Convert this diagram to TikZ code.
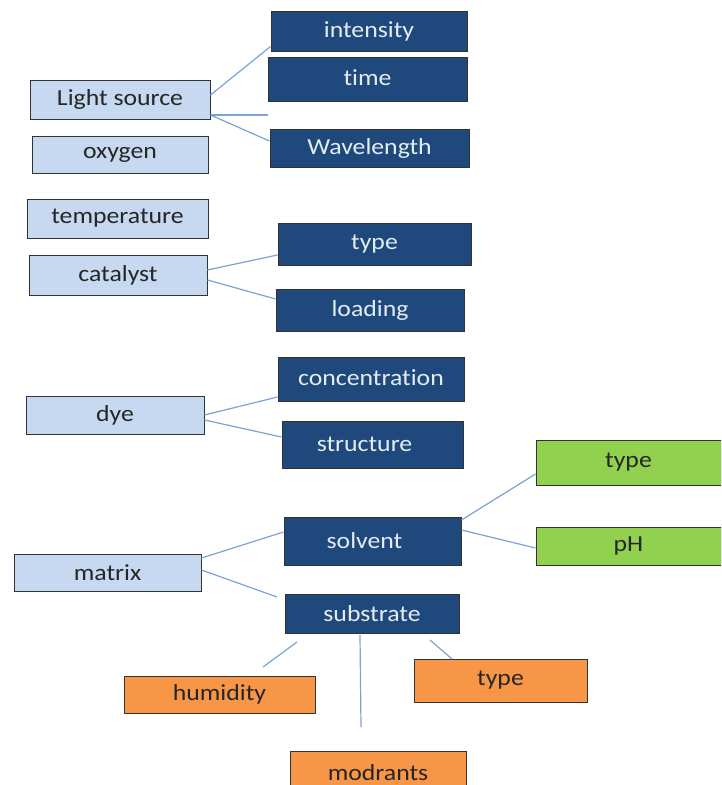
\documentclass[tikz,border=0pt]{standalone}
\usepackage{fontspec}
\setmainfont{Carlito}[FakeStretch=1.12, Ligatures={NoCommon,NoRequired,NoContextual}]
\definecolor{darkb}{HTML}{1F497D}
\definecolor{lightb}{HTML}{C6D9F1}
\definecolor{greenb}{HTML}{92D050}
\definecolor{orangeb}{HTML}{F79646}
\definecolor{linec}{HTML}{7BA3D6}
\definecolor{bord}{HTML}{333333}
\definecolor{txtl}{HTML}{E4ECF2}
\tikzset{
  base/.style={draw=bord, line width=1pt, inner sep=0pt, font=\fontsize{23}{25}\selectfont},
  dark/.style={base, fill=darkb, text=txtl},
  light/.style={base, fill=lightb, text=black!85},
  green/.style={base, fill=greenb, text=black!85},
  orange/.style={base, fill=orangeb, text=black!85},
  conn/.style={draw=linec, line width=1.2pt},
}
\newcommand{\bx}[7]{\node[#1, minimum width=#4pt, minimum height=#5pt] (#2) at (#3) {#6#7};}
\begin{document}
\begin{tikzpicture}[x=1pt,y=-1pt]
\clip (0,0) rectangle (721,785);
\fill[white] (0,0) rectangle (721,785);
\bx{dark}{intensity}{369,31}{196}{40}{}{intensity}
\bx{dark}{time}{367.5,79}{199}{44}{\raisebox{3pt}{}}{\raisebox{3pt}{time}}
\bx{dark}{wave}{369.5,148}{199}{38}{}{Wavelength}
\bx{light}{lightsrc}{120,99.5}{180}{39}{}{Light source}
\bx{light}{oxygen}{120,154.5}{176}{37}{}{oxygen}
\bx{light}{temp}{117.5,218.5}{181}{39}{}{temperature}
\bx{light}{catalyst}{118,275}{178}{40}{}{catalyst}
\bx{dark}{typeA}{374.5,244}{193}{42}{}{type}
\bx{dark}{loading}{370,310}{188}{42}{}{loading}
\bx{dark}{conc}{371,379}{186}{44}{}{\raisebox{2pt}{concentration}}
\bx{light}{dye}{115,415}{178}{38}{}{dye}
\bx{dark}{struct}{372.5,444.5}{181}{47}{}{\hspace*{-16pt}structure}
\bx{green}{typeG}{628.5,462.5}{185}{45}{}{type}
\bx{green}{ph}{628.5,546}{185}{38}{}{pH}
\bx{dark}{solvent}{372.5,541}{177}{48}{}{\hspace*{-16pt}solvent}
\bx{light}{matrix}{107.5,572.5}{187}{37}{}{matrix}
\bx{dark}{substrate}{372,613.5}{174}{39}{}{substrate}
\bx{orange}{humidity}{219.5,694.5}{191}{37}{}{humidity}
\bx{orange}{typeO}{500.5,680.5}{173}{43}{}{type}
\node[orange, minimum width=176pt, minimum height=42pt, anchor=north] (modrants) at (378,751) {\raisebox{-3pt}{modrants}};
% free ends
\coordinate (f1) at (268,115);
\coordinate (f2) at (277,597);
\coordinate (s1a) at (297,642); \coordinate (s1b) at (263,667);
\coordinate (s2a) at (360,635); \coordinate (s2b) at (361,727);
\coordinate (s3a) at (430,640); \coordinate (s3b) at (452,659);
% connectors
\draw[conn] ([yshift=4.5pt]lightsrc.east) -- ([yshift=5pt]intensity.south west);
\draw[conn] ([yshift=-15.5pt]lightsrc.east) -- (f1);
\draw[conn] ([yshift=-15.5pt]lightsrc.east) -- ([yshift=7pt]wave.west);
\draw[conn] ([yshift=5pt]catalyst.east) -- ([yshift=-11pt]typeA.west);
\draw[conn] ([yshift=-5pt]catalyst.east) -- ([yshift=11pt]loading.west);
\draw[conn] (dye.east) -- ([yshift=-18pt]conc.west);
\draw[conn] ([yshift=-5pt]dye.east) -- ([yshift=7.5pt]struct.west);
\draw[conn] ([yshift=14.5pt]matrix.east) -- ([yshift=9pt]solvent.west);
\draw[conn] ([yshift=2.5pt]matrix.east) -- (f2);
\draw[conn] ([yshift=21pt]solvent.east) -- ([yshift=-11.5pt]typeG.west);
\draw[conn] ([yshift=11pt]solvent.east) -- ([yshift=-2pt]ph.west);
\draw[conn] (s1a) -- (s1b);
\draw[conn] (s2a) -- (s2b);
\draw[conn] (s3a) -- (s3b);
\end{tikzpicture}
\end{document}
